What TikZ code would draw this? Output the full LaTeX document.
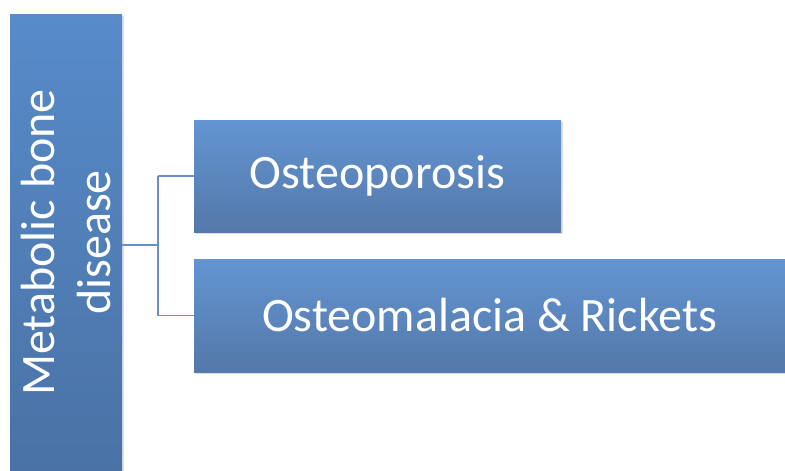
\documentclass[tikz,border=0pt]{standalone}
\usepackage{fontspec}
\setmainfont{Carlito}
\usetikzlibrary{shadows}
\definecolor{boxtop}{HTML}{6395D2}
\definecolor{boxbot}{HTML}{5478A9}
\definecolor{roottop}{HTML}{578BCA}
\definecolor{rootbot}{HTML}{4A72A5}
\definecolor{linkblue}{HTML}{6A90C9}
\tikzset{
  leafbox/.style={rectangle, top color=boxtop, bottom color=boxbot,
    text=white, font=\fontsize{48}{57}\selectfont,
    drop shadow={opacity=0.25, shadow xshift=2pt, shadow yshift=-2pt}},
  link/.style={draw=linkblue, line width=1.3pt}
}
\begin{document}
\begin{tikzpicture}[x=1pt,y=-1pt]
  \useasboundingbox (0,0) rectangle (785,471);
  % Root box, text running bottom to top
  \node[rectangle, rotate=90, top color=roottop, bottom color=rootbot,
    text=white, align=center, font=\fontsize{48}{56}\selectfont,
    minimum width=457pt, minimum height=112pt, inner sep=0pt,
    drop shadow={opacity=0.25, shadow xshift=2pt, shadow yshift=-2pt}]
    (root) at (66,242.5) {Metabolic bone\\disease};
  % Leaf boxes
  \node[leafbox, minimum width=367pt, minimum height=112pt, inner sep=0pt]
    (osteo) at (377.5,176) {Osteoporosis};
  \node[leafbox, minimum width=591pt, minimum height=113pt, inner sep=0pt]
    (rick) at (489.5,315.5) {Osteomalacia \& Rickets};
  % Connectors
  \coordinate (fork) at (158,245);
  \draw[link] (root.south |- fork) -- (fork);
  \draw[link] (fork |- osteo.west) -- (fork |- rick.west);
  \draw[link] (fork |- osteo.west) -- (osteo.west);
  \draw[link] (fork |- rick.west) -- (rick.west);
\end{tikzpicture}
\end{document}
